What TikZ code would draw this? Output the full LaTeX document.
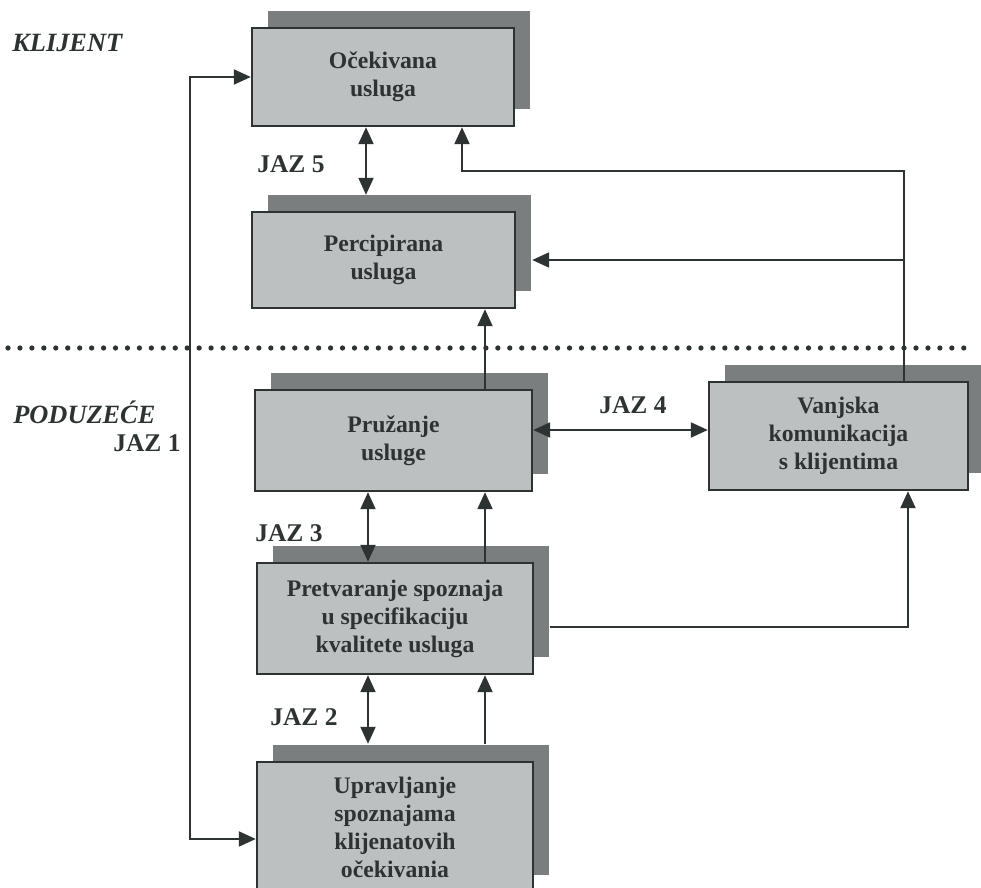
\documentclass[tikz,border=0pt]{standalone}
\usepackage{fontspec}
\setmainfont{Liberation Serif}
\usetikzlibrary{arrows.meta,shadows,calc}
\definecolor{boxfill}{RGB}{188,192,192}
\definecolor{shadefill}{RGB}{122,126,126}
\definecolor{ink}{RGB}{45,50,50}
\tikzset{
  box/.style={draw=ink, line width=1.4pt, fill=boxfill, align=center, text=ink,
    font=\fontsize{13.5}{15.9}\selectfont\bfseries, inner sep=0pt,
    drop shadow={shadow xshift=0.32cm, shadow yshift=0.34cm, fill=shadefill, opacity=1}},
  gap label/.style={anchor=west, inner sep=0pt, text=ink, font=\fontsize{14.5}{16}\selectfont\bfseries},
  side label/.style={anchor=west, inner sep=0pt, text=ink, font=\fontsize{15}{17}\selectfont\bfseries\itshape},
  link/.style={draw=ink, line width=1.2pt, -{Triangle[length=3.4mm,width=3mm]}},
  twoway/.style={link, {Triangle[length=3.4mm,width=3mm]}-{Triangle[length=3.4mm,width=3mm]}},
  divider/.style={draw=ink, line width=3pt, line cap=round, dash pattern=on 0pt off 6.8pt}
}
\begin{document}
\begin{tikzpicture}[x=0.02cm, y=-0.02cm]
    \useasboundingbox (0,0) rectangle (981,888);
    \clip (0,0) rectangle (981,888);
    \node[box, minimum width=5.24cm, minimum height=1.96cm] (oce) at (383,77) {Očekivana\\usluga};
    \node[box, minimum width=5.26cm, minimum height=1.92cm] (perc) at (383.5,260) {Percipirana\\usluga};
    \node[box, minimum width=5.54cm, minimum height=2.02cm] (pruz) at (393.5,440.5) {Pružanje\\usluge};
    \node[box, minimum width=5.52cm, minimum height=2.22cm] (pretv) at (395,618.5) {Pretvaranje spoznaja\\u specifikaciju\\kvalitete usluga};
    \node[box, minimum width=5.52cm, minimum height=2.6cm] (upr) at (395,827) {Upravljanje\\spoznajama\\klijenatovih\\očekivania};
    \node[box, minimum width=5.18cm, minimum height=2.16cm] (vanj) at (838.5,436) {Vanjska\\komunikacija\\s klijentima};
    \node[side label] (klijent) at (12,43) {KLIJENT};
    \node[side label] (poduzece) at (13,412) {PODUZEĆE};
    \node[gap label] (jaz1) at (113,443) {JAZ 1};
    \node[gap label] (jaz2) at (270,717) {JAZ 2};
    \node[gap label] (jaz3) at (255,533) {JAZ 3};
    \node[gap label] (jaz4) at (599,405) {JAZ 4};
    \node[gap label] (jaz5) at (257,164) {JAZ 5};
    \draw[divider] (8,348) -- (966,348);
    \coordinate (j1) at (190,839);
    \coordinate (j3) at (368,0);
    \coordinate (j4) at (0,430);
    \coordinate (j5) at (366,0);
    \coordinate (up) at (485,0);
    \coordinate (fb) at (904,171);
    \coordinate (spec) at (908,627);
    \draw[twoway] (oce.west) -| (j1) -- (j1 -| upr.west);
    \draw[twoway] (oce.south -| j5) -- ($(perc.north -| j5)+(0,-16)$);
    \draw[link] (vanj.north -| fb) -- (fb) -| ($(oce.south)+(79,0)$);
    \draw[link] (fb |- perc.east) -- ($(perc.east)+(16,0)$);
    \draw[link] (pruz.north -| up) -- (perc.south -| up);
    \draw[twoway] (pruz.east |- j4) -- (vanj.west |- j4);
    \draw[twoway] (pruz.south -| j3) -- (pretv.north -| j3);
    \draw[link] (pretv.north -| up) -- (pruz.south -| up);
    \draw[link] ($(pretv.east |- spec)+(16,0)$) -- (spec) -- (vanj.south -| spec);
    \draw[twoway] (pretv.south -| j3) -- ($(upr.north -| j3)+(0,-17)$);
    \draw[link] ($(upr.north -| up)+(0,-17)$) -- (pretv.south -| up);
  \end{tikzpicture}
\end{document}
